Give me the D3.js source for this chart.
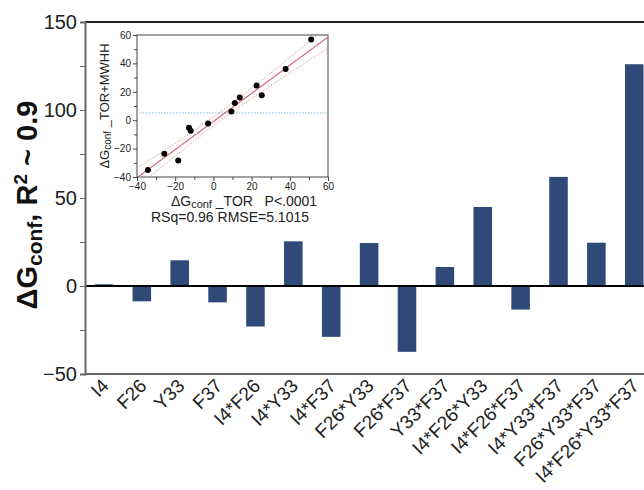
<!DOCTYPE html>
<html>
<head>
<meta charset="utf-8">
<script src="https://cdn.jsdelivr.net/npm/d3@7"></script>
<style>
  body { margin: 0; background: #fff; }
  svg { display: block; font-family: "Liberation Sans", Arial, sans-serif; }
</style>
</head>
<body>
<svg id="chart" width="644" height="490"></svg>
<script>
// bar chart data
const categories = ["I4", "F26", "Y33", "F37", "I4*F26", "I4*Y33", "I4*F37", "F26*Y33",
  "F26*F37", "Y33*F37", "I4*F26*Y33", "I4*F26*F37", "I4*Y33*F37", "F26*Y33*F37", "I4*F26*Y33*F37"]
const dGconf = [1, -8.7, 14.6, -9.3, -23, 25.4, -28.9, 24.4, -37.4, 10.8, 44.9, -13.4, 62, 24.6, 126]
const yTicks = [-50, 0, 50, 100, 150]
const yMinor = [-25, 25, 75, 125]

// inset scatter data (TOR vs TOR+MWHH)
const tor = [-34.3, -25.7, -18.4, -12.8, -11.9, -2.8, 9.4, 11.2, 13.8, 22.6, 25.3, 37.8, 51.2]
const torMwhh = [-35.1, -23.7, -28.3, -5.4, -7.5, -2.3, 6.1, 12.2, 15.9, 24.4, 17.6, 36.1, 56.9]
const insetTicks = [-40, -20, 0, 20, 40, 60]
const insetMinor = [-30, -10, 10, 30, 50]
const fitSlope = 0.99
const fitIntercept = -0.9
const rmse = 5.1015
const tCrit = 2.201

const svg = d3.select('#chart')
const W = 644
const font = '"Liberation Sans", Arial, sans-serif'

const x = d3.scaleBand()
  .domain(categories)
  .range([85, 85 + 15 * 37.88])
  .paddingInner(0.51)
  .paddingOuter(0.255)

const y = d3.scaleLinear().domain([-50, 150]).range([374, 22])

// top frame line
svg.append('line')
  .attr('x1', 85).attr('x2', W)
  .attr('y1', y(150)).attr('y2', y(150))
  .attr('stroke', '#222').attr('stroke-width', 2)

// bars
svg.append('g')
  .selectAll('rect')
  .data(dGconf)
  .join('rect')
  .attr('x', (d, i) => x(categories[i]))
  .attr('y', d => y(Math.max(0, d)))
  .attr('width', x.bandwidth())
  .attr('height', d => Math.abs(y(d) - y(0)))
  .attr('fill', '#2f4a78')

// zero line
svg.append('line')
  .attr('x1', 85).attr('x2', W)
  .attr('y1', y(0)).attr('y2', y(0))
  .attr('stroke', '#000').attr('stroke-width', 2)

// y axis
const yAxis = svg.append('g')
  .attr('transform', 'translate(85,0)')
  .call(d3.axisLeft(y).tickValues(yTicks).tickSize(5).tickPadding(3))
yAxis.select('.domain').attr('stroke', '#666').attr('stroke-width', 2)
yAxis.selectAll('.tick line').attr('stroke', '#666')
yAxis.selectAll('text').attr('font-size', 20).attr('fill', '#222')
  .attr('font-family', font)

svg.append('g')
  .attr('transform', 'translate(85,0)')
  .call(d3.axisLeft(y).tickValues(yMinor).tickSize(5).tickFormat(''))
  .call(g => g.select('.domain').remove())
  .selectAll('.tick line').attr('stroke', '#666')

// x axis
const xAxis = svg.append('g')
  .attr('transform', `translate(0,${y(-50)})`)
  .call(d3.axisBottom(x).tickSize(0))
xAxis.select('.domain').attr('d', `M85,0H${W}`).attr('stroke', '#666').attr('stroke-width', 2)
xAxis.selectAll('text')
  .attr('x', 0).attr('y', 0).attr('dy', 0)
  .attr('text-anchor', 'end')
  .attr('transform', 'translate(6,13) rotate(-45)')
  .attr('font-size', 19)
  .attr('fill', '#222')
  .attr('font-family', font)

// y axis title
const title = svg.append('text')
  .attr('transform', `translate(37,205) rotate(-90)`)
  .attr('text-anchor', 'middle')
  .attr('font-size', 29)
  .attr('font-weight', 'bold')
  .attr('fill', '#111')
title.append('tspan').text('\u0394G')
title.append('tspan').attr('dy', 5).attr('font-size', 21).text('conf')
title.append('tspan').attr('dy', -5).text(', R')
title.append('tspan').attr('dy', -10).attr('font-size', 19).text('2')
title.append('tspan').attr('dy', 10).text(' ~ 0.9')

// ---- inset ----
const ix = d3.scaleLinear().domain([-40, 60]).range([137, 328])
const iy = d3.scaleLinear().domain([-40, 60]).range([177, 35])
const inset = svg.append('g')

inset.append('rect')
  .attr('x', ix(-40)).attr('y', iy(60))
  .attr('width', ix(60) - ix(-40)).attr('height', iy(-40) - iy(60))
  .attr('fill', '#fff').attr('stroke', '#444').attr('stroke-width', 1)

inset.append('clipPath').attr('id', 'insetClip')
  .append('rect')
  .attr('x', ix(-40)).attr('y', iy(60))
  .attr('width', ix(60) - ix(-40)).attr('height', iy(-40) - iy(60))

const plot = inset.append('g').attr('clip-path', 'url(#insetClip)')

// mean of y
const yMean = d3.mean(torMwhh)
plot.append('line')
  .attr('x1', ix(-40)).attr('x2', ix(60))
  .attr('y1', iy(yMean)).attr('y2', iy(yMean))
  .attr('stroke', '#8fbadb').attr('stroke-width', 1)
  .attr('stroke-dasharray', '1.5,1.5')

// fit line and confidence curves
const xMean = d3.mean(tor)
const sxx = d3.sum(tor, v => (v - xMean) ** 2)
const n = tor.length
const xs = d3.range(-40, 60.5, 1)
const band = xs.map(v => {
  const fit = fitIntercept + fitSlope * v
  const h = tCrit * rmse * Math.sqrt(1 / n + (v - xMean) ** 2 / sxx)
  return { v, fit, lo: fit - h, hi: fit + h }
})
const ln = key => d3.line().x(d => ix(d.v)).y(d => iy(d[key]))

plot.append('path').datum(band).attr('d', ln('hi'))
  .attr('fill', 'none').attr('stroke', '#e393a0').attr('stroke-width', 1)
  .attr('stroke-dasharray', '1.5,1.5')
plot.append('path').datum(band).attr('d', ln('lo'))
  .attr('fill', 'none').attr('stroke', '#e393a0').attr('stroke-width', 1)
  .attr('stroke-dasharray', '1.5,1.5')
plot.append('path').datum(band).attr('d', ln('fit'))
  .attr('fill', 'none').attr('stroke', '#d66a7b').attr('stroke-width', 1.2)

// points
plot.append('g')
  .selectAll('circle')
  .data(tor)
  .join('circle')
  .attr('cx', d => ix(d))
  .attr('cy', (d, i) => iy(torMwhh[i]))
  .attr('r', 3)
  .attr('fill', '#000')

// inset axes
const ixAxis = inset.append('g')
  .attr('transform', `translate(0,${iy(-40)})`)
  .call(d3.axisBottom(ix).tickValues(insetTicks).tickSize(4).tickPadding(2))
ixAxis.select('.domain').remove()
inset.append('g')
  .attr('transform', `translate(0,${iy(-40)})`)
  .call(d3.axisBottom(ix).tickValues(insetMinor).tickSize(3).tickFormat(''))
  .select('.domain').remove()

const iyAxis = inset.append('g')
  .attr('transform', `translate(${ix(-40)},0)`)
  .call(d3.axisLeft(iy).tickValues(insetTicks).tickSize(4).tickPadding(2))
iyAxis.select('.domain').remove()
inset.append('g')
  .attr('transform', `translate(${ix(-40)},0)`)
  .call(d3.axisLeft(iy).tickValues(insetMinor).tickSize(3).tickFormat(''))
  .select('.domain').remove()

inset.selectAll('.tick line').attr('stroke', '#444')
inset.selectAll('.tick text')
  .attr('font-size', 10).attr('fill', '#222')
  .attr('font-family', font)

// inset labels
const iyLabel = inset.append('text')
  .attr('transform', `translate(109,${(iy(60) + iy(-40)) / 2}) rotate(-90)`)
  .attr('text-anchor', 'middle')
  .attr('font-size', 13)
  .attr('fill', '#222')
iyLabel.append('tspan').text('\u0394G')
iyLabel.append('tspan').attr('dy', 2).attr('font-size', 10).text('conf')
iyLabel.append('tspan').attr('dy', -2).text(' _TOR+MWHH')

const ixLabel = inset.append('text')
  .attr('x', 244).attr('y', 206)
  .attr('text-anchor', 'middle')
  .attr('font-size', 14)
  .attr('fill', '#222')
  .style('white-space', 'pre')
ixLabel.append('tspan').text('\u0394G')
ixLabel.append('tspan').attr('dy', 2).attr('font-size', 11).text('conf')
ixLabel.append('tspan').attr('dy', -2).text(' _TOR   P<.0001')

inset.append('text')
  .attr('x', 230).attr('y', 222)
  .attr('text-anchor', 'middle')
  .attr('font-size', 14)
  .attr('fill', '#222')
  .text('RSq=0.96 RMSE=5.1015')
</script>
</body>
</html>
